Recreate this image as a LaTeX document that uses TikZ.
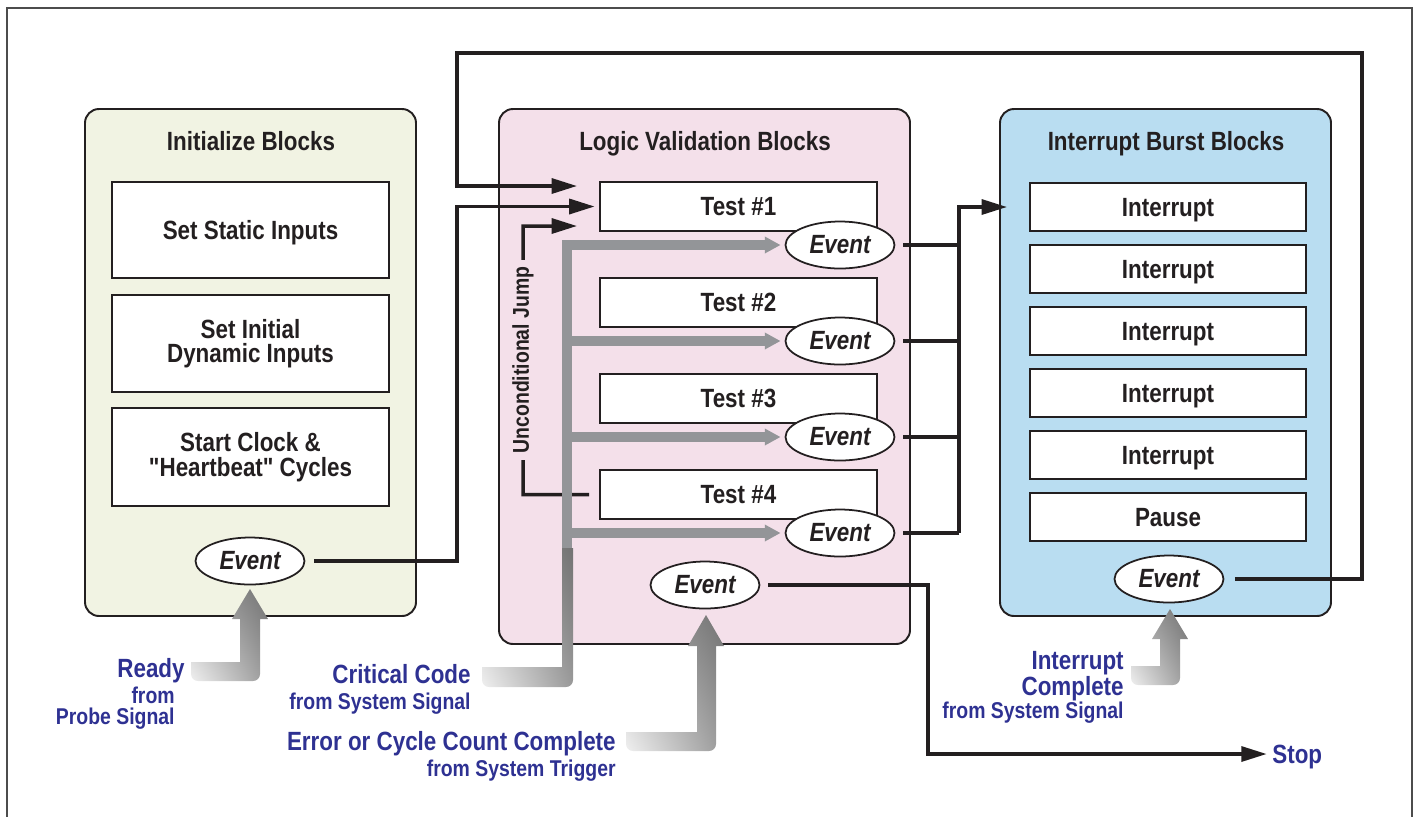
\documentclass[tikz,border=0pt]{standalone}
\usepackage{fontspec}
\setmainfont{Liberation Sans}[FakeStretch=0.85,Ligatures=TeXOff]
\usepackage{tikz}
\usetikzlibrary{shapes.geometric,arrows.meta,calc,shadings}
\definecolor{initgreen}{HTML}{F1F3E3}
\definecolor{logicpink}{HTML}{F4E0EA}
\definecolor{burstblue}{HTML}{B9DDF1}
\definecolor{sigblue}{HTML}{2E3192}
\definecolor{bargray}{HTML}{939598}
\definecolor{inkblack}{HTML}{231F20}
\newcommand{\bigtxt}{\fontsize{15}{14}\selectfont\bfseries}
\newcommand{\smalltxt}{\fontsize{13}{13}\selectfont\bfseries}

\begin{document}
\begin{tikzpicture}[x=0.02cm,y=-0.02cm,
  panel/.style={draw=inkblack,line width=1.1pt,rounded corners=0.28cm},
  paneltitle/.style={font=\bigtxt,text=inkblack,anchor=base},
  blockbox/.style={draw=inkblack,fill=white,line width=1.1pt,minimum width=5.54cm,inner sep=0pt,align=center,font=\bigtxt,text=inkblack},
  oneline/.style={text height=10.7pt,text depth=0pt},
  eventnode/.style={ellipse,draw=inkblack,fill=white,line width=1pt,minimum width=2.18cm,minimum height=0.94cm,inner sep=0pt,font=\bigtxt\itshape,text=inkblack},
  conn/.style={draw=inkblack,line width=2pt},
  connarrow/.style={conn,-{Triangle[length=14.5pt,width=8.5pt]}},
  grayarrow/.style={draw=bargray,line width=5.2pt,-{Triangle[length=9pt,width=9pt]}},
  sigbig/.style={font=\bigtxt,text=sigblue,inner sep=0pt},
  sigsmall/.style={font=\smalltxt,text=sigblue,inner sep=0pt},
  feed/.style={upper left=black!35,upper right=black!55,lower left=black!6,lower right=black!40}]
\useasboundingbox (0,0) rectangle (1416,816);
\draw[black!70,line width=0.6pt] (7,830) -- (7,8) -- (1412,8) -- (1412,830);

% panels
\filldraw[panel,fill=initgreen] (85,109) rectangle (416,616);
\filldraw[panel,fill=logicpink] (499,109) rectangle (910,644);
\filldraw[panel,fill=burstblue] (1000,109) rectangle (1331,616);
\node[paneltitle] (inittitle) at (251,150) {Initialize Blocks};
\node[paneltitle] (logictitle) at (705,150) {Logic Validation Blocks};
\node[paneltitle] (bursttitle) at (1166,150) {Interrupt Burst Blocks};

% initialize blocks
\node[blockbox,oneline,minimum height=1.92cm] (static) at (250.5,230) {Set Static Inputs};
\node[blockbox,minimum height=1.94cm] (dynamic) at (250.5,343.5) {Set Initial\\Dynamic Inputs};
\node[blockbox,minimum height=1.96cm] (clock) at (250.5,457) {Start Clock \&\\"Heartbeat" Cycles};
\node[eventnode] (initev) at (250,561) {Event};

% logic validation blocks
\foreach \i/\y in {1/206.5,2/302.5,3/398.5,4/494.5}{
  \node[blockbox,oneline,minimum height=0.98cm] (test\i) at (738.5,\y) {Test \#\i};
  \node[eventnode] (ev\i) at (840,\y+38.5) {Event};
}
\node[eventnode] (logev) at (705,585) {Event};

% interrupt burst blocks
\foreach \i/\txt in {1/Interrupt,2/Interrupt,3/Interrupt,4/Interrupt,5/Interrupt,6/Pause}{
  \node[blockbox,oneline,minimum width=5.52cm,minimum height=0.96cm] (burst\i) at (1168,145+62*\i) {\txt};
}
\node[eventnode] (burstev) at (1169,579) {Event};

\coordinate (lbus) at (457,53);
\coordinate (rbus) at (1362,53);
\coordinate (jump) at (523,226);
\coordinate (evbus) at (959,207);
\coordinate (stopbend) at (928,754);
\coordinate (graybus) at (567,560);

% black connectors
\draw[connarrow,shorten <=5pt,shorten >=2.5pt] (initev.east) -| (lbus |- test1.west) -- (test1.west);
\draw[connarrow,shorten <=6pt] (burstev.east) -| (rbus) -- (lbus) |- ($(test1.west)+(-22,-20.5)$);
\draw[connarrow] ($(test4.west)+(-10,0)$) -| (jump) -- ($(test1.west)+(-22,19.5)$);
\node[rotate=90,fill=logicpink,font=\smalltxt,text=inkblack,inner xsep=4pt,inner ysep=1pt] (jumplabel) at (523,360) {Unconditional Jump};
\foreach \i in {1,...,4}
  \draw[conn,shorten <=4.5pt] (ev\i.east) -- (evbus |- ev\i.east);
\draw[connarrow] (evbus |- ev4.east) -- (evbus) -- ($(burst1.west)+(-22,0)$);
\node[sigbig,anchor=base west] (stop) at (1272,763) {Stop};
\draw[connarrow,shorten <=4.5pt,shorten >=3pt] (logev.east) -| (stopbend) -- (stopbend -| stop.west);

% gray signal bus
\draw[grayarrow,shorten >=2.3pt] (graybus) |- (ev1.west);
\foreach \i in {2,3,4}
  \draw[grayarrow,shorten >=2.3pt] (graybus |- ev\i.west) -- (ev\i.west);

% shaded inputs
\shade[feed] (482,667) -- (562,667) -- (562,548) -- (573,548) [rounded corners=0.14cm] -- (573,687) -- (482,687) [sharp corners] -- cycle;
\shade[feed] (191,662) -- (240,662) -- (240,619) -- (232,619) -- (250,589) -- (268,619) -- (260,619) [rounded corners=0.14cm] -- (260,681) -- (191,681) [sharp corners] -- cycle;
\shade[feed] (626,732) -- (697,732) -- (697,646) -- (688,646) -- (706,615) -- (724,646) -- (716,646) [rounded corners=0.14cm] -- (716,751) -- (626,751) [sharp corners] -- cycle;
\shade[feed] (1131,666) -- (1160,666) -- (1160,639) -- (1152,639) -- (1170,609) -- (1188,639) -- (1180,639) [rounded corners=0.14cm] -- (1180,685) -- (1131,685) [sharp corners] -- cycle;

% signal labels
\node[sigbig,anchor=base east] (ready) at (185,677) {Ready};
\node[sigsmall,anchor=base east] (readyfrom) at (175,703) {from};
\node[sigsmall,anchor=base east] (readysrc) at (175,724) {Probe Signal};
\node[sigbig,anchor=base east] (critical) at (471,683) {Critical Code};
\node[sigsmall,anchor=base east] (criticalsrc) at (471,709) {from System Signal};
\node[sigbig,anchor=base east] (errcount) at (616,750) {Error or Cycle Count Complete};
\node[sigsmall,anchor=base east] (errsrc) at (616,776) {from System Trigger};
\node[sigbig,anchor=north east,align=right,font=\fontsize{15}{13}\selectfont\bfseries] (intdone) at (1124,651) {Interrupt\\Complete};
\node[sigsmall,anchor=base east] (intsrc) at (1124,718) {from System Signal};
\end{tikzpicture}
\end{document}
